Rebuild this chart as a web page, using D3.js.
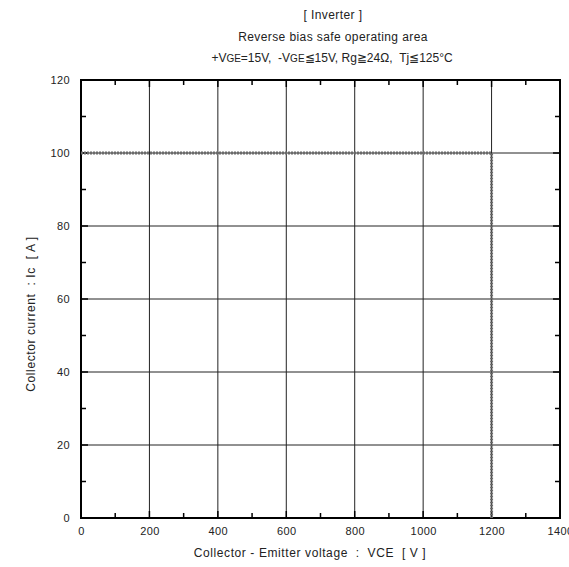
<!DOCTYPE html>
<html>
<head>
<meta charset="utf-8">
<script src="https://cdn.jsdelivr.net/npm/d3@7"></script>
<style>
  body { margin: 0; background: #fff; }
  text { font-family: "Liberation Sans", Arial, sans-serif; fill: #222; white-space: pre; }
</style>
</head>
<body>
<svg id="chart"></svg>
<script>
const WIDTH = 569
const HEIGHT = 567

// safe operating area boundary (VCE, Ic)
const soaVce = [0, 1200, 1200]
const soaIc = [100, 100, 0]

const xTicks = [0, 200, 400, 600, 800, 1000, 1200, 1400]
const yTicks = [0, 20, 40, 60, 80, 100, 120]
const xMinor = [100, 300, 500, 700, 900, 1100, 1300]
const yMinor = [10, 30, 50, 70, 90, 110]

const margin = { left: 81, right: 9, top: 80, bottom: 49 }

let svg = d3.select("#chart")
  .attr("width", WIDTH)
  .attr("height", HEIGHT)

let x = d3.scaleLinear().domain([0, 1400]).range([margin.left, WIDTH - margin.right])
let y = d3.scaleLinear().domain([0, 120]).range([HEIGHT - margin.bottom, margin.top])

// grid
svg.append("g").selectAll("line")
  .data(xTicks.slice(1, -1))
  .enter().append("line")
  .attr("x1", d => x(d)).attr("x2", d => x(d))
  .attr("y1", y(0)).attr("y2", y(120))
  .attr("stroke", "#222").attr("stroke-width", 1)

svg.append("g").selectAll("line")
  .data(yTicks.slice(1, -1))
  .enter().append("line")
  .attr("x1", x(0)).attr("x2", x(1400))
  .attr("y1", d => y(d)).attr("y2", d => y(d))
  .attr("stroke", "#222").attr("stroke-width", 1)

// minor ticks, pointing inward on all four sides
let ticks = svg.append("g").attr("stroke", "#000").attr("stroke-width", 1.5)
xMinor.forEach(v => {
  ticks.append("line").attr("x1", x(v)).attr("x2", x(v)).attr("y1", y(0)).attr("y2", y(0) - 5)
  ticks.append("line").attr("x1", x(v)).attr("x2", x(v)).attr("y1", y(120)).attr("y2", y(120) + 5)
})
yMinor.forEach(v => {
  ticks.append("line").attr("x1", x(0)).attr("x2", x(0) + 5).attr("y1", y(v)).attr("y2", y(v))
  ticks.append("line").attr("x1", x(1400)).attr("x2", x(1400) - 5).attr("y1", y(v)).attr("y2", y(v))
})
xTicks.forEach(v => {
  ticks.append("line").attr("x1", x(v)).attr("x2", x(v)).attr("y1", y(0)).attr("y2", y(0) - 7)
  ticks.append("line").attr("x1", x(v)).attr("x2", x(v)).attr("y1", y(120)).attr("y2", y(120) + 7)
})
yTicks.forEach(v => {
  ticks.append("line").attr("x1", x(0)).attr("x2", x(0) + 7).attr("y1", y(v)).attr("y2", y(v))
  ticks.append("line").attr("x1", x(1400)).attr("x2", x(1400) - 7).attr("y1", y(v)).attr("y2", y(v))
})

// frame
svg.append("rect")
  .attr("x", x(0)).attr("y", y(120))
  .attr("width", x(1400) - x(0)).attr("height", y(0) - y(120))
  .attr("fill", "none").attr("stroke", "#000").attr("stroke-width", 2)

// SOA line
let line = d3.line().x((d, i) => x(soaVce[i])).y(d => y(d))
svg.append("path")
  .datum(soaIc)
  .attr("d", line)
  .attr("fill", "none")
  .attr("stroke", "#6a6a6a")
  .attr("stroke-width", 3)
  .attr("stroke-dasharray", "2,1")

// tick labels
let xAxis = d3.axisBottom(x).tickValues(xTicks).tickFormat(d3.format("d")).tickSize(0).tickPadding(9)
let gx = svg.append("g").attr("transform", `translate(0,${y(0)})`).call(xAxis)
gx.select(".domain").remove()
gx.selectAll("text").style("font-size", "11px").attr("fill", "#222")
  .style("font-family", '"Liberation Sans", Arial, sans-serif').style("letter-spacing", "0.4px")

let yAxis = d3.axisLeft(y).tickValues(yTicks).tickFormat(d3.format("d")).tickSize(0).tickPadding(11)
let gy = svg.append("g").attr("transform", `translate(${x(0)},0)`).call(yAxis)
gy.select(".domain").remove()
gy.selectAll("text").style("font-size", "11px").attr("fill", "#222")
  .style("font-family", '"Liberation Sans", Arial, sans-serif').style("letter-spacing", "0.4px")

// axis titles
svg.append("text")
  .attr("x", 310).attr("y", 557)
  .attr("text-anchor", "middle")
  .style("font-size", "12px").style("letter-spacing", "0.6px")
  .text("Collector - Emitter voltage  :  VCE  [ V ]")

svg.append("text")
  .attr("transform", "translate(35,314) rotate(-90)")
  .attr("text-anchor", "middle")
  .style("font-size", "12px").style("letter-spacing", "0.6px")
  .text("Collector current  : Ic  [ A ]")

// title
svg.append("text").attr("x", 333).attr("y", 19).attr("text-anchor", "middle")
  .style("font-size", "12px").style("letter-spacing", "0.4px").text("[ Inverter ]")
svg.append("text").attr("x", 333).attr("y", 41).attr("text-anchor", "middle")
  .style("font-size", "12px").style("letter-spacing", "0.4px").text("Reverse bias safe operating area")

let cond = svg.append("text").attr("x", 332).attr("y", 62).attr("text-anchor", "middle")
  .style("font-size", "12px")
cond.append("tspan").text("+V")
cond.append("tspan").style("font-size", "10px").text("GE")
cond.append("tspan").text("=15V,  -V")
cond.append("tspan").style("font-size", "10px").text("GE")
cond.append("tspan").text("\u226615V, Rg\u226724\u03a9,  Tj\u2266125\u00b0C")
</script>
</body>
</html>
